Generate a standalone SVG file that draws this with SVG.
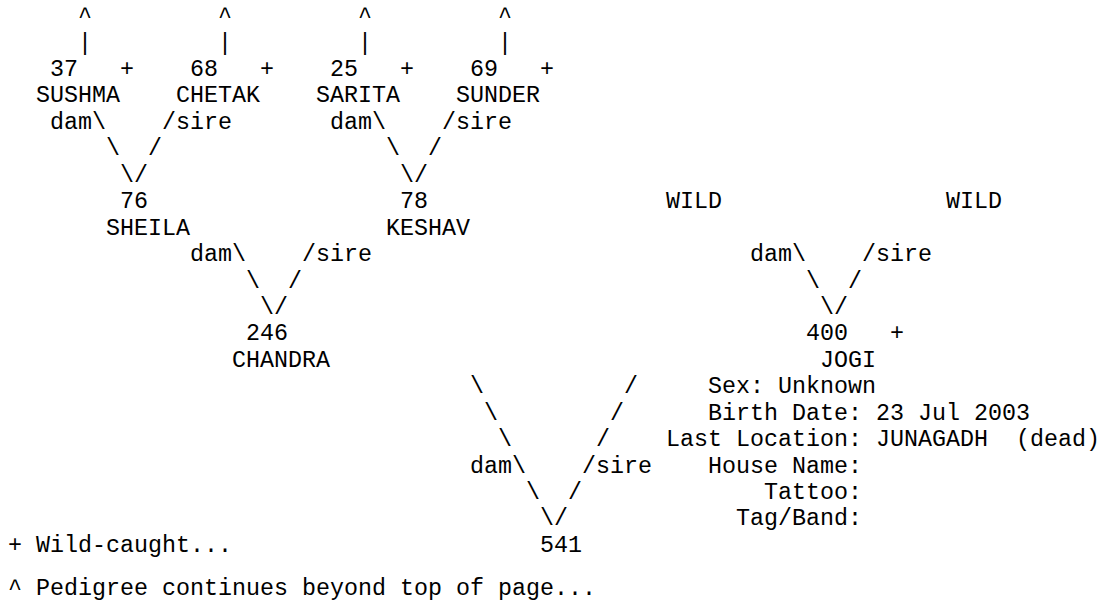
<svg xmlns="http://www.w3.org/2000/svg" width="1104" height="615" viewBox="0 0 1104 615">
<style>
text { font-family: "Liberation Mono", "Courier New", monospace; font-size: 23.33px; fill: #000; white-space: pre; }
</style>
<rect width="1104" height="615" fill="#fff"/>
<g id="connectors">
  <text x="78" y="23.1">^</text><text x="218" y="23.1">^</text><text x="358" y="23.1">^</text><text x="498" y="23.1">^</text>
  <text x="78" y="49.6">|</text><text x="218" y="49.6">|</text><text x="358" y="49.6">|</text><text x="498" y="49.6">|</text>
  <text x="50" y="128.9">dam\</text><text x="162" y="128.9">/sire</text>
  <text x="106" y="155.3">\</text><text x="148" y="155.3">/</text>
  <text x="120" y="181.7">\/</text>
  <text x="330" y="128.9">dam\</text><text x="442" y="128.9">/sire</text>
  <text x="386" y="155.3">\</text><text x="428" y="155.3">/</text>
  <text x="400" y="181.7">\/</text>
  <text x="190" y="261">dam\</text><text x="302" y="261">/sire</text>
  <text x="246" y="287.5">\</text><text x="288" y="287.5">/</text>
  <text x="260" y="313.9">\/</text>
  <text x="750" y="261">dam\</text><text x="862" y="261">/sire</text>
  <text x="806" y="287.5">\</text><text x="848" y="287.5">/</text>
  <text x="820" y="313.9">\/</text>
  <text x="470" y="393.2">\</text><text x="624" y="393.2">/</text>
  <text x="484" y="419.6">\</text><text x="610" y="419.6">/</text>
  <text x="498" y="446">\</text><text x="596" y="446">/</text>
  <text x="470" y="472.5">dam\</text><text x="582" y="472.5">/sire</text>
  <text x="526" y="498.9">\</text><text x="568" y="498.9">/</text>
  <text x="540" y="525.3">\/</text>
</g>
<g id="n37"><text x="50" y="76">37</text><text x="120" y="76">+</text><text x="36" y="102.4">SUSHMA</text></g>
<g id="n68"><text x="190" y="76">68</text><text x="260" y="76">+</text><text x="176" y="102.4">CHETAK</text></g>
<g id="n25"><text x="330" y="76">25</text><text x="400" y="76">+</text><text x="316" y="102.4">SARITA</text></g>
<g id="n69"><text x="470" y="76">69</text><text x="540" y="76">+</text><text x="456" y="102.4">SUNDER</text></g>
<g id="n76"><text x="120" y="208.2">76</text><text x="106" y="234.6">SHEILA</text></g>
<g id="n78"><text x="400" y="208.2">78</text><text x="386" y="234.6">KESHAV</text></g>
<g id="wild-dam"><text x="666" y="208.2">WILD</text></g>
<g id="wild-sire"><text x="946" y="208.2">WILD</text></g>
<g id="n246"><text x="246" y="340.3">246</text><text x="232" y="366.8">CHANDRA</text></g>
<g id="n400"><text x="806" y="340.3">400</text><text x="890" y="340.3">+</text><text x="820" y="366.8">JOGI</text></g>
<g id="n541">
  <text x="540" y="551.7">541</text>
  <text x="708" y="393.2">Sex: Unknown</text>
  <text x="708" y="419.6">Birth Date: 23 Jul 2003</text>
  <text x="666" y="446">Last Location: JUNAGADH  (dead)</text>
  <text x="708" y="472.5">House Name:</text>
  <text x="764" y="498.9">Tattoo:</text>
  <text x="736" y="525.3">Tag/Band:</text>
</g>
<g id="legend">
  <text x="8" y="551.7">+ Wild-caught...</text>
  <text x="8" y="595">^ Pedigree continues beyond top of page...</text>
</g>
</svg>
